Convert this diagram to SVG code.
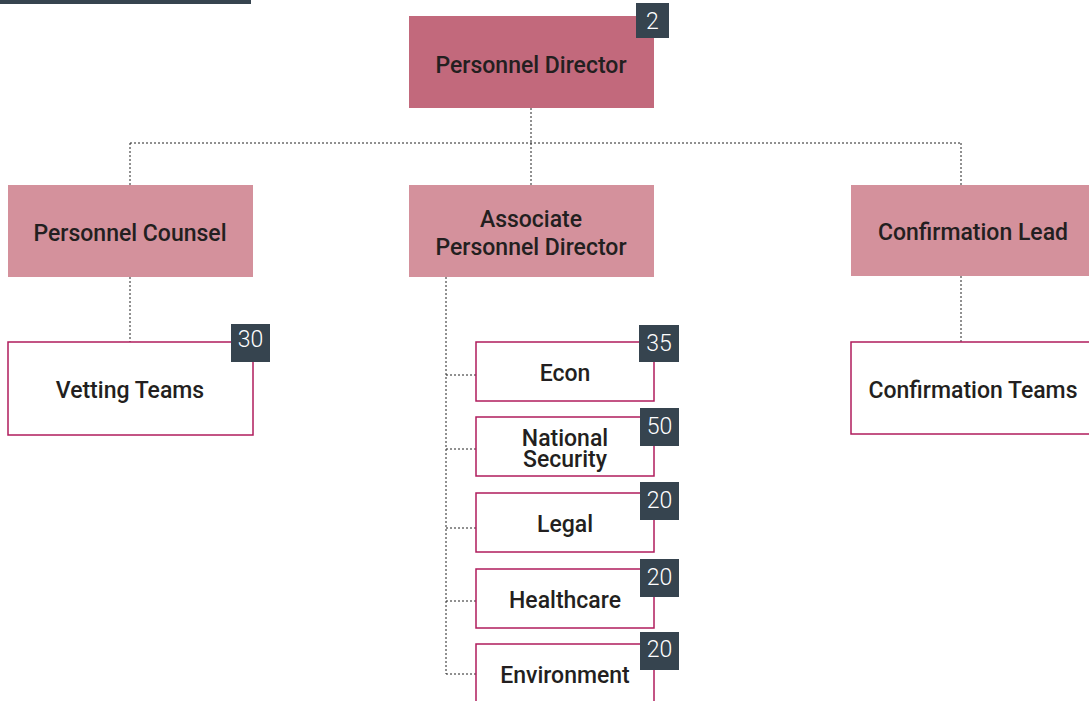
<svg xmlns="http://www.w3.org/2000/svg" width="1089" height="701" viewBox="0 0 1089 701">
<style>
.lbl{font-family:Roboto,"Liberation Sans",sans-serif;font-weight:500;font-size:23px;fill:#231f20;text-anchor:middle}
.num{font-family:Roboto,"Liberation Sans",sans-serif;font-weight:300;font-size:23px;fill:#ffffff;text-anchor:middle}
.top{fill:#c2697c}
.mid{fill:#d4919c}
.team{fill:#ffffff;stroke:#b01c5c;stroke-width:1.5}
.badge{fill:#36444f}
.conn{fill:none;stroke:#222;stroke-width:1;stroke-dasharray:2 2}
</style>
<rect x="0" y="0" width="251" height="4" fill="#36444f"/>
<g id="connectors">
<path class="conn" d="M531 108V143M130 143H961M130 143V185M531 143V185M961 143V185"/>
<path class="conn" d="M130 277V342M961 276V342"/>
<path class="conn" d="M446 277V674M446 375H476M446 449H476M446 528H476M446 601H476M446 674H476"/>
</g>
<g id="personnel-director">
<rect class="top" x="409" y="16" width="245" height="92"/>
<text class="lbl" x="531" y="73">Personnel Director</text>
<rect class="badge" x="636" y="3" width="33" height="35"/>
<text class="num" x="652.5" y="29">2</text>
</g>
<g id="personnel-counsel">
<rect class="mid" x="8" y="185" width="245" height="92"/>
<text class="lbl" x="130" y="241">Personnel Counsel</text>
</g>
<g id="associate-director">
<rect class="mid" x="409" y="185" width="245" height="92"/>
<text class="lbl" x="531" y="227">Associate</text>
<text class="lbl" x="531" y="255">Personnel Director</text>
</g>
<g id="confirmation-lead">
<rect class="mid" x="851" y="185" width="245" height="91"/>
<text class="lbl" x="973" y="240">Confirmation Lead</text>
</g>
<g id="vetting-teams">
<rect class="team" x="8" y="342" width="245" height="93"/>
<text class="lbl" x="130" y="398">Vetting Teams</text>
<rect class="badge" x="231" y="324" width="39" height="38"/>
<text class="num" x="250.5" y="347">30</text>
</g>
<g id="confirmation-teams">
<rect class="team" x="851" y="342" width="245" height="92"/>
<text class="lbl" x="973" y="398">Confirmation Teams</text>
</g>
<g id="econ">
<rect class="team" x="476" y="342" width="178" height="59"/>
<text class="lbl" x="565" y="381">Econ</text>
<rect class="badge" x="639" y="325" width="40" height="37"/>
<text class="num" x="659" y="351">35</text>
</g>
<g id="national-security">
<rect class="team" x="476" y="417" width="178" height="59"/>
<text class="lbl" x="565" y="446">National</text>
<text class="lbl" x="565" y="467">Security</text>
<rect class="badge" x="640" y="408" width="39" height="38"/>
<text class="num" x="659.5" y="434">50</text>
</g>
<g id="legal">
<rect class="team" x="476" y="493" width="178" height="59"/>
<text class="lbl" x="565" y="532">Legal</text>
<rect class="badge" x="640" y="482" width="39" height="38"/>
<text class="num" x="659.5" y="508">20</text>
</g>
<g id="healthcare">
<rect class="team" x="476" y="569" width="178" height="59"/>
<text class="lbl" x="565" y="608">Healthcare</text>
<rect class="badge" x="640" y="559" width="39" height="38"/>
<text class="num" x="659.5" y="585">20</text>
</g>
<g id="environment">
<rect class="team" x="476" y="644" width="178" height="70"/>
<text class="lbl" x="565" y="683">Environment</text>
<rect class="badge" x="640" y="632" width="39" height="38"/>
<text class="num" x="659.5" y="657">20</text>
</g>
</svg>
